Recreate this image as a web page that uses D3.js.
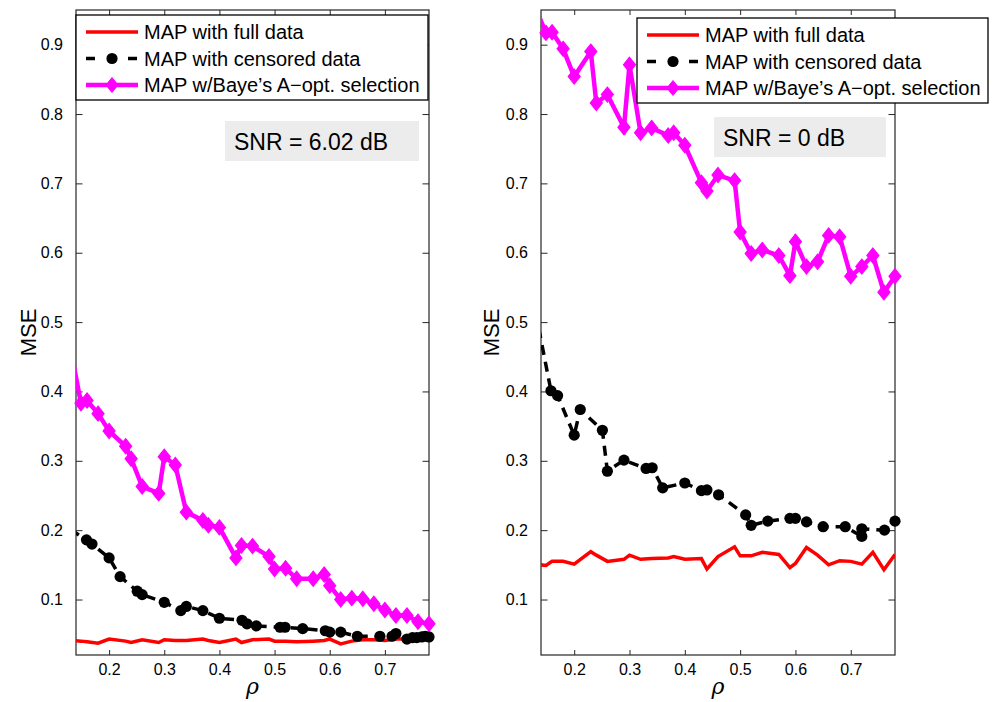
<!DOCTYPE html>
<html>
<head>
<meta charset="utf-8">
<script src="https://cdn.jsdelivr.net/npm/d3@7"></script>
<style>
  html, body { margin: 0; padding: 0; background: #fff; }
  svg { display: block; font-family: "Liberation Sans", Arial, Helvetica, sans-serif; }
</style>
</head>
<body>
<svg id="chart" width="994" height="702"></svg>
<script>
// ---- data -------------------------------------------------------------
const rhoTicks = [0.2, 0.3, 0.4, 0.5, 0.6, 0.7];
const mseTicks = [0.1, 0.2, 0.3, 0.4, 0.5, 0.6, 0.7, 0.8, 0.9];

// sampling ratios used for the full-data and A-optimal curves
const rhoSel = [0.13, 0.149, 0.16, 0.18, 0.20, 0.23, 0.24, 0.26, 0.29, 0.30, 0.32, 0.34,
                0.37, 0.38, 0.40, 0.43, 0.44, 0.46, 0.49, 0.50, 0.52, 0.54, 0.57, 0.59,
                0.60, 0.62, 0.64, 0.66, 0.68, 0.70, 0.72, 0.74, 0.76, 0.78];

// SNR = 6.02 dB
const fullHigh = [0.041, 0.040, 0.039, 0.037, 0.043, 0.040, 0.038, 0.042, 0.038, 0.042, 0.041, 0.041,
                  0.043, 0.041, 0.038, 0.043, 0.038, 0.042, 0.043, 0.040, 0.040, 0.039, 0.040, 0.041,
                  0.043, 0.036, 0.040, 0.042, 0.042, 0.041, 0.043, 0.043, 0.044, 0.044];
const selHigh = [0.462, 0.383, 0.387, 0.368, 0.343, 0.321, 0.303, 0.263, 0.253, 0.306, 0.294, 0.226,
                 0.214, 0.207, 0.204, 0.160, 0.178, 0.177, 0.162, 0.144, 0.145, 0.130, 0.130, 0.136,
                 0.120, 0.100, 0.102, 0.101, 0.094, 0.085, 0.077, 0.077, 0.068, 0.065];
const rhoCensHigh = [0.13, 0.159, 0.169, 0.20, 0.22, 0.251, 0.26, 0.30, 0.33, 0.34, 0.37, 0.40,
                     0.441, 0.45, 0.467, 0.51, 0.519, 0.551, 0.592, 0.60, 0.62, 0.65, 0.691,
                     0.713, 0.72, 0.74, 0.75, 0.758, 0.767, 0.773, 0.78];
const censHigh = [0.201, 0.186, 0.180, 0.160, 0.133, 0.112, 0.107, 0.096, 0.084, 0.090, 0.084, 0.073,
                  0.070, 0.065, 0.062, 0.060, 0.060, 0.058, 0.055, 0.053, 0.053, 0.047, 0.047,
                  0.047, 0.051, 0.043, 0.045, 0.045, 0.046, 0.047, 0.046];

// SNR = 0 dB
const fullLow = [0.151, 0.149, 0.155, 0.155, 0.151, 0.169, 0.164, 0.155, 0.158, 0.164, 0.158, 0.159,
                 0.160, 0.162, 0.158, 0.159, 0.144, 0.162, 0.176, 0.163, 0.163, 0.168, 0.165, 0.146,
                 0.152, 0.175, 0.164, 0.150, 0.156, 0.155, 0.151, 0.168, 0.143, 0.165];
const selLow = [0.953, 0.917, 0.918, 0.894, 0.854, 0.890, 0.816, 0.828, 0.781, 0.871, 0.773, 0.780,
                0.769, 0.773, 0.755, 0.701, 0.689, 0.712, 0.704, 0.630, 0.599, 0.604, 0.596, 0.567,
                0.616, 0.580, 0.587, 0.625, 0.623, 0.566, 0.580, 0.596, 0.543, 0.566];
const rhoCensLow = [0.13, 0.158, 0.17, 0.20, 0.211, 0.251, 0.26, 0.29, 0.33, 0.341, 0.36, 0.40,
                    0.43, 0.44, 0.461, 0.51, 0.52, 0.55, 0.59, 0.60, 0.62, 0.65, 0.69, 0.72,
                    0.72, 0.761, 0.78];
const censLow = [0.515, 0.401, 0.394, 0.337, 0.374, 0.344, 0.285, 0.301, 0.289, 0.290, 0.261, 0.268,
                 0.257, 0.258, 0.251, 0.222, 0.207, 0.213, 0.217, 0.217, 0.212, 0.205, 0.205, 0.191,
                 0.202, 0.200, 0.213];

const legendLabels = ["MAP with full data", "MAP with censored data", "MAP w/Baye\u2019s A\u2212opt. selection"];
const snrLabels = ["SNR = 6.02 dB", "SNR = 0 dB"];
const xLabel = "\u03C1";
const yLabel = "MSE";

// ---- drawing ----------------------------------------------------------
const svg = d3.select("#chart");
const RED = "#ff0000", MAG = "#ff00ff", BLK = "#000000", AX = "#262626";
const xDomain = [0.14, 0.78], yDomain = [0.02, 0.95];

const diamond = (hw, hh) => `M0,${-hh}L${hw},0L0,${hh}L${-hw},0Z`;

function drawPanel(cfg, idx) {
  const x = d3.scaleLinear().domain(xDomain).range([cfg.left, cfg.right]);
  const y = d3.scaleLinear().domain(yDomain).range([cfg.bottom, cfg.top]);
  const g = svg.append("g");

  const clipId = "clip" + idx;
  g.append("clipPath").attr("id", clipId).append("rect")
    .attr("x", cfg.left).attr("y", cfg.top)
    .attr("width", cfg.right - cfg.left).attr("height", cfg.bottom - cfg.top);

  // axes with inward ticks, mirrored on the opposite sides
  const fmt = d3.format(".1f");
  const axB = g.append("g").attr("transform", `translate(0,${cfg.bottom})`)
    .call(d3.axisBottom(x).tickValues(rhoTicks).tickFormat(fmt).tickSizeInner(-5).tickSizeOuter(0).tickPadding(9));
  const axT = g.append("g").attr("transform", `translate(0,${cfg.top})`)
    .call(d3.axisTop(x).tickValues(rhoTicks).tickFormat("").tickSizeInner(-5).tickSizeOuter(0));
  const axL = g.append("g").attr("transform", `translate(${cfg.left},0)`)
    .call(d3.axisLeft(y).tickValues(mseTicks).tickFormat(fmt).tickSizeInner(-6.5).tickSizeOuter(0).tickPadding(13));
  const axR = g.append("g").attr("transform", `translate(${cfg.right},0)`)
    .call(d3.axisRight(y).tickValues(mseTicks).tickFormat("").tickSizeInner(-6.5).tickSizeOuter(0));
  [axB, axT, axL, axR].forEach(a => {
    a.select(".domain").remove();
    a.selectAll("line").attr("stroke", AX).attr("stroke-width", 1);
    a.selectAll("text").attr("fill", "#000").style("font-size", "16px")
      .style("font-family", '"Liberation Sans", Arial, sans-serif');
  });
  g.append("rect").attr("x", cfg.left).attr("y", cfg.top)
    .attr("width", cfg.right - cfg.left).attr("height", cfg.bottom - cfg.top)
    .attr("fill", "none").attr("stroke", AX).attr("stroke-width", 1.2);

  // axis titles
  g.append("text").attr("x", (cfg.left + cfg.right) / 2).attr("y", 694)
    .attr("text-anchor", "middle").style("font-size", "22px").style("font-style", "italic")
    .style("font-family", '"DejaVu Serif", serif').text(xLabel);
  g.append("text").attr("transform", `translate(${cfg.ylabX},${(cfg.top + cfg.bottom) / 2}) rotate(-90)`)
    .attr("text-anchor", "middle").style("font-size", "22px").text(yLabel);

  const inDom = v => v >= xDomain[0] - 1e-9 && v <= xDomain[1] + 1e-9;
  const line = d3.line().x(d => x(d[0])).y(d => y(d[1]));
  const plot = g.append("g");
  const lines = plot.append("g").attr("clip-path", `url(#${clipId})`);

  const full = rhoSel.map((r, i) => [r, cfg.full[i]]);
  const cens = cfg.rhoCens.map((r, i) => [r, cfg.cens[i]]);
  const sel = rhoSel.map((r, i) => [r, cfg.sel[i]]);

  // full data: solid red
  lines.append("path").datum(full).attr("d", line)
    .attr("fill", "none").attr("stroke", RED).attr("stroke-width", 3.5).attr("stroke-linejoin", "miter");

  // censored data: dashed black with dots
  lines.append("path").datum(cens).attr("d", line)
    .attr("fill", "none").attr("stroke", BLK).attr("stroke-width", 3.5).attr("stroke-dasharray", "10,7");
  plot.append("g").selectAll("circle").data(cens.filter(d => inDom(d[0]))).join("circle")
    .attr("cx", d => x(d[0])).attr("cy", d => y(d[1])).attr("r", 5.6).attr("fill", BLK);

  // A-optimal selection: magenta with diamonds
  lines.append("path").datum(sel).attr("d", line)
    .attr("fill", "none").attr("stroke", MAG).attr("stroke-width", 4.5).attr("stroke-linejoin", "miter");
  plot.append("g").selectAll("path").data(sel.filter(d => inDom(d[0]))).join("path")
    .attr("transform", d => `translate(${x(d[0])},${y(d[1])})`)
    .attr("d", diamond(6, 7.5)).attr("fill", MAG).attr("stroke", MAG).attr("stroke-width", 1.2);

  // SNR annotation
  const s = cfg.snr;
  g.append("rect").attr("x", s.x).attr("y", s.y).attr("width", s.w).attr("height", s.h).attr("fill", "#ececec");
  g.append("text").attr("x", s.x + 9).attr("y", s.y + s.h / 2 + 8.5)
    .style("font-size", "23px").attr("fill", "#000").text(snrLabels[idx]);

  // legend
  const L = cfg.legend;
  const lg = g.append("g");
  lg.append("rect").attr("x", L.x).attr("y", L.y).attr("width", L.w).attr("height", L.h)
    .attr("fill", "#fff").attr("stroke", "#000").attr("stroke-width", 1.3);
  const sx0 = L.x + 10, sx1 = L.x + 62, sxm = (sx0 + sx1) / 2;
  legendLabels.forEach((lab, i) => {
    const cy = L.y + 17 + i * 26.5;
    const seg = lg.append("line").attr("x1", sx0).attr("x2", sx1).attr("y1", cy).attr("y2", cy);
    if (i === 0) seg.attr("stroke", RED).attr("stroke-width", 3.5);
    if (i === 1) {
      seg.attr("stroke", BLK).attr("stroke-width", 3.5).attr("stroke-dasharray", "9,12,9,12,9");
      lg.append("circle").attr("cx", sxm).attr("cy", cy).attr("r", 5.6).attr("fill", BLK);
    }
    if (i === 2) {
      seg.attr("stroke", MAG).attr("stroke-width", 4.5);
      lg.append("path").attr("transform", `translate(${sxm},${cy})`).attr("d", diamond(6, 7.5))
        .attr("fill", MAG).attr("stroke", MAG);
    }
    lg.append("text").attr("x", L.x + 68).attr("y", cy + 7).style("font-size", "20px")
      .attr("fill", "#000").text(lab);
  });
}

const panels = [
  { left: 76, right: 429, top: 10, bottom: 655, ylabX: 36,
    full: fullHigh, sel: selHigh, rhoCens: rhoCensHigh, cens: censHigh,
    snr: { x: 225, y: 121, w: 194, h: 40 },
    legend: { x: 76, y: 15, w: 352, h: 85 } },
  { left: 541, right: 895, top: 10, bottom: 655, ylabX: 499,
    full: fullLow, sel: selLow, rhoCens: rhoCensLow, cens: censLow,
    snr: { x: 714, y: 117, w: 172, h: 40 },
    legend: { x: 637, y: 18, w: 351, h: 85 } }
];
panels.forEach((p, i) => drawPanel(p, i));
</script>
</body>
</html>
